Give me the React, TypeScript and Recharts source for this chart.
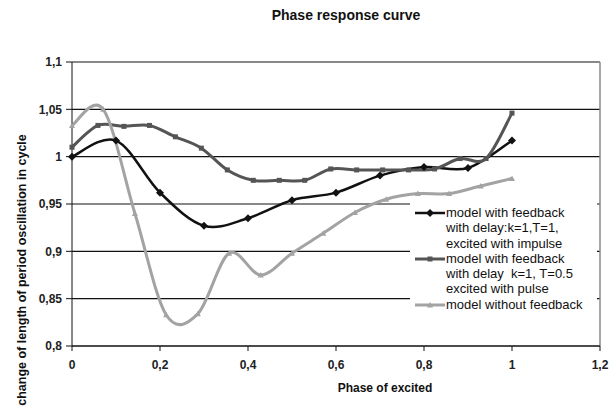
import React from "react";
import {
  LineChart,
  Line,
  XAxis,
  YAxis,
  CartesianGrid,
  ReferenceLine,
} from "recharts";

// values
const impulseX = [0, 0.1, 0.2, 0.3, 0.4, 0.5, 0.6, 0.7, 0.8, 0.9, 1];
const impulseY = [1.0, 1.017, 0.962, 0.927, 0.935, 0.954, 0.962, 0.98, 0.989, 0.988, 1.017];

const pulseX = [
  0, 0.059, 0.118, 0.176, 0.235, 0.294, 0.353, 0.412, 0.471, 0.529, 0.588,
  0.647, 0.706, 0.765, 0.824, 0.882, 0.941, 1,
];
const pulseY = [
  1.01, 1.033, 1.032, 1.033, 1.021, 1.009, 0.986, 0.975, 0.975, 0.975, 0.987,
  0.986, 0.986, 0.986, 0.987, 0.998, 0.998, 1.046,
];

const noFbX = [
  0, 0.071, 0.143, 0.214, 0.286, 0.357, 0.429, 0.5, 0.571, 0.643, 0.714,
  0.786, 0.857, 0.929, 1,
];
const noFbY = [
  1.033, 1.05, 0.94, 0.833, 0.834, 0.898, 0.875, 0.898, 0.919, 0.941, 0.955,
  0.961, 0.961, 0.969, 0.977,
];

const xTicks = [0, 0.2, 0.4, 0.6, 0.8, 1, 1.2];
const yTicks = [0.8, 0.85, 0.9, 0.95, 1, 1.05, 1.1];

const toRows = (xs: number[], ys: number[]) =>
  xs.map((x, i) => ({ x, y: ys[i] }));

const impulseData = toRows(impulseX, impulseY);
const pulseData = toRows(pulseX, pulseY);
const noFbData = toRows(noFbX, noFbY);

const FONT = "'Liberation Sans', Arial, sans-serif";
const comma = (v: number) => String(+v.toFixed(2)).replace(".", ",");

// excel-like smoothed line (catmull-rom)
function smooth(context: any) {
  let pts: number[][] = [];
  return {
    areaStart() {},
    areaEnd() {},
    lineStart() {
      pts = [];
    },
    lineEnd() {
      const n = pts.length;
      if (!n) return;
      context.moveTo(pts[0][0], pts[0][1]);
      for (let i = 0; i < n - 1; i++) {
        const p0 = pts[i - 1] || pts[i];
        const p1 = pts[i];
        const p2 = pts[i + 1];
        const p3 = pts[i + 2] || p2;
        context.bezierCurveTo(
          p1[0] + (p2[0] - p0[0]) / 6,
          p1[1] + (p2[1] - p0[1]) / 6,
          p2[0] - (p3[0] - p1[0]) / 6,
          p2[1] - (p3[1] - p1[1]) / 6,
          p2[0],
          p2[1]
        );
      }
    },
    point(x: number, y: number) {
      pts.push([+x, +y]);
    },
  };
}

const Diamond = ({ cx, cy, color }: any) => (
  <polygon
    points={`${cx},${cy - 4} ${cx + 4},${cy} ${cx},${cy + 4} ${cx - 4},${cy}`}
    fill={color}
  />
);
const Square = ({ cx, cy, color }: any) => (
  <rect x={cx - 2.5} y={cy - 2.5} width={5} height={5} fill={color} />
);
const Triangle = ({ cx, cy, color }: any) => (
  <polygon
    points={`${cx},${cy - 3} ${cx + 3},${cy + 2.5} ${cx - 3},${cy + 2.5}`}
    fill={color}
  />
);

const series = [
  {
    name: "impulse",
    data: impulseData,
    color: "#111",
    width: 2.5,
    Marker: Diamond,
    label: ["model with feedback", "with delay:k=1,T=1,", "excited with impulse"],
  },
  {
    name: "pulse",
    data: pulseData,
    color: "#555",
    width: 3,
    Marker: Square,
    label: ["model with feedback", "with delay  k=1, T=0.5", "excited with pulse"],
  },
  {
    name: "nofb",
    data: noFbData,
    color: "#a3a3a3",
    width: 3,
    Marker: Triangle,
    label: ["model without feedback"],
  },
];

export default function App() {
  return (
    <div style={{ position: "relative", width: 614, height: 411, background: "#fff", fontFamily: FONT }}>
      <style>{"body{margin:0}"}</style>
      <div
        style={{
          position: "absolute",
          top: 7,
          left: 0,
          width: 692,
          textAlign: "center",
          fontSize: 14,
          fontWeight: "bold",
          color: "#111",
        }}
      >
        Phase response curve
      </div>
      <LineChart
        width={614}
        height={411}
        margin={{ top: 62, right: 14, bottom: 0, left: 0 }}
      >
        <CartesianGrid vertical={false} stroke="#111" strokeWidth={1.2} />
        <ReferenceLine y={1.1} stroke="#888" strokeWidth={1.5} />
        <ReferenceLine x={1.2} stroke="#888" strokeWidth={1.5} />
        <XAxis
          type="number"
          dataKey="x"
          domain={[0, 1.2]}
          ticks={xTicks}
          tickFormatter={comma}
          height={65}
          tickSize={5}
          tickMargin={9}
          stroke="#111"
          tick={{ fill: "#222", fontSize: 12, fontWeight: "bold", fontFamily: FONT }}
          label={{
            content: ({ viewBox }: any) => (
              <text
                x={viewBox.x + viewBox.width / 2 + 49}
                y={viewBox.y + 46}
                textAnchor="middle"
                fontSize={12}
                fontWeight="bold"
                fill="#111"
                fontFamily={FONT}
              >
                Phase of excited
              </text>
            ),
          }}
        />
        <YAxis
          type="number"
          domain={[0.8, 1.1]}
          ticks={yTicks}
          tickFormatter={comma}
          width={72}
          tickSize={6}
          tickMargin={4}
          stroke="#111"
          tick={{ fill: "#222", fontSize: 12, fontWeight: "bold", fontFamily: FONT }}
          label={{
            content: ({ viewBox }: any) => (
              <text
                x={viewBox.x + 26}
                y={viewBox.y + 208}
                transform={`rotate(-90 ${viewBox.x + 26} ${viewBox.y + 208})`}
                textAnchor="middle"
                fontSize={12.5}
                fontWeight="bold"
                fill="#111"
                fontFamily={FONT}
              >
                change of length of period oscillation in cycle
              </text>
            ),
          }}
        />
        {series.map((s) => (
          <Line
            key={s.name}
            data={s.data}
            dataKey="y"
            type={smooth as any}
            stroke={s.color}
            strokeWidth={s.width}
            isAnimationActive={false}
            dot={(p: any) => <s.Marker key={p.index} cx={p.cx} cy={p.cy} color={s.color} />}
            activeDot={false}
          />
        ))}
      </LineChart>
      <div
        style={{
          position: "absolute",
          left: 410,
          top: 202,
          width: 187,
          height: 112,
          background: "#fff",
          paddingTop: 3,
          boxSizing: "border-box",
        }}
      >
        {series.map((s) => (
          <div key={s.name} style={{ display: "flex", alignItems: "flex-start" }}>
            <svg width={36} height={15} style={{ flex: "none" }}>
              <line x1={5} x2={35} y1={8} y2={8} stroke={s.color} strokeWidth={s.width} />
              <s.Marker cx={20} cy={8} color={s.color} />
            </svg>
            <div style={{ fontSize: 13, lineHeight: "15.3px", color: "#111", whiteSpace: "pre" }}>
              {s.label.map((t) => (
                <div key={t}>{t}</div>
              ))}
            </div>
          </div>
        ))}
      </div>
    </div>
  );
}
